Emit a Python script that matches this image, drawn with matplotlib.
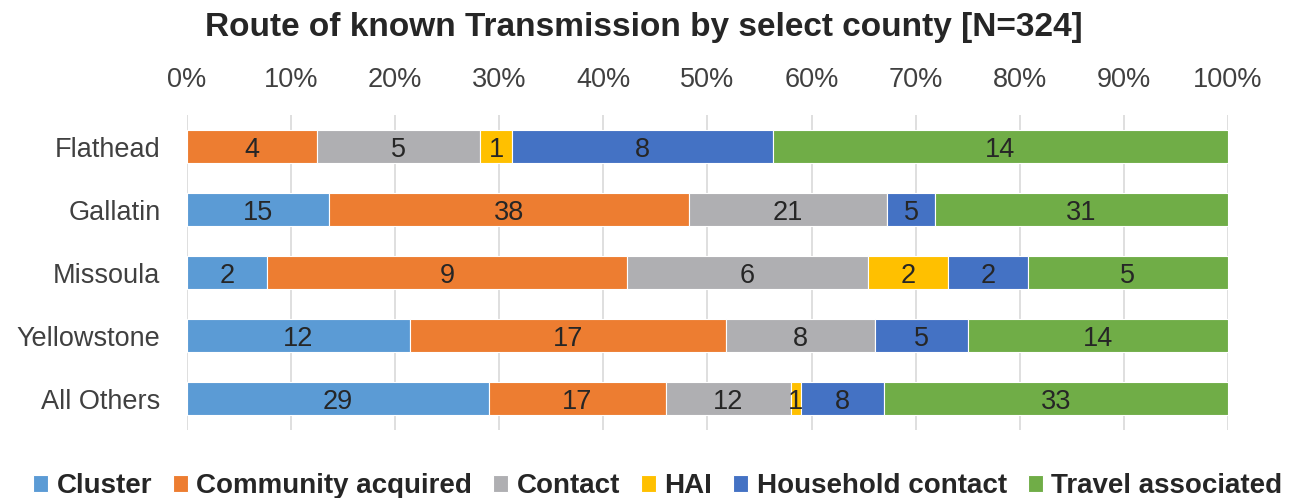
import numpy as np
import matplotlib.pyplot as plt

plt.rcParams['font.family'] = ['Liberation Sans', 'DejaVu Sans']

counties = ['Flathead', 'Gallatin', 'Missoula', 'Yellowstone', 'All Others']
routes = ['Cluster', 'Community acquired', 'Contact', 'HAI',
          'Household contact', 'Travel associated']
cluster = [0, 15, 2, 12, 29]
community = [4, 38, 9, 17, 17]
contact = [5, 21, 6, 8, 12]
hai = [1, 0, 2, 0, 1]
household = [8, 5, 2, 5, 8]
travel = [14, 31, 5, 14, 33]
colors = ['#5B9BD5', '#ED7D31', '#AFAFB2', '#FFC000', '#4472C4', '#70AD47']

data = np.array([cluster, community, contact, hai, household, travel], dtype=float)
totals = data.sum(axis=0)
pct = data / totals * 100

fig = plt.figure(figsize=(12.92, 4.98), dpi=100)
ax = fig.add_axes([0.1447, 0.1365, 0.8058, 0.6325])

y = np.arange(len(counties))
left = np.zeros(len(counties))
for i, name in enumerate(routes):
    ax.barh(y, pct[i], left=left, height=0.52, color=colors[i],
            edgecolor='white', linewidth=0.8, label=name, zorder=3)
    for j in range(len(counties)):
        if data[i, j] > 0:
            ax.text(left[j] + pct[i, j] / 2, y[j], '%d' % data[i, j],
                    ha='center', va='center_baseline', fontsize=19.5,
                    color='#262626', zorder=4)
    left += pct[i]

ax.set_xlim(0, 100)
ax.set_ylim(4.5, -0.5)
ax.set_xticks(np.arange(0, 101, 10))
ax.set_xticklabels(['%d%%' % v for v in range(0, 101, 10)])
ax.xaxis.tick_top()
ax.tick_params(axis='x', length=0, labelsize=19.5, labelcolor='#404040', pad=16)
ax.set_yticks(y)
ax.set_yticklabels(counties)
ax.tick_params(axis='y', length=0, labelsize=19.5, labelcolor='#404040', pad=19)
ax.grid(axis='x', color='#D9D9D9', linewidth=1.2, zorder=0)
for s in ax.spines.values():
    s.set_visible(False)

fig.text(0.498, 0.944, 'Route of known Transmission by select county [N=324]',
         fontsize=24, fontweight='bold', color='#262626', ha='center', va='center')

fig.legend(loc='lower center', bbox_to_anchor=(0.509, -0.053), ncol=6, frameon=False,
           prop={'size': 20, 'weight': 'bold'}, labelcolor='#262626',
           handlelength=0.55, handleheight=0.55, handletextpad=0.3, columnspacing=0.75)

fig.savefig('out.png', dpi=100)
